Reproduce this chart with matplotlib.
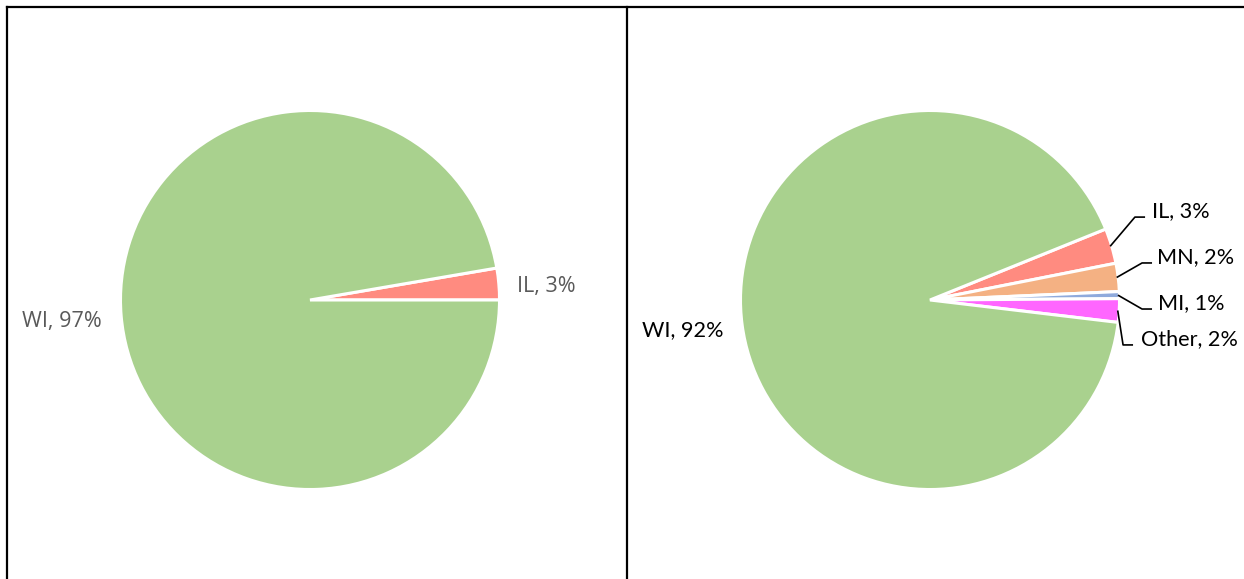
import matplotlib
matplotlib.use("Agg")
import matplotlib.pyplot as plt
from matplotlib.lines import Line2D
import numpy as np

# data
left_states = ["IL", "WI"]
left_values = [2.7, 97.3]
left_colors = ["#FF8B80", "#A9D18E"]

right_states = ["IL", "MN", "MI", "Other", "WI"]
right_values = [3.0, 2.4, 0.6, 2.0, 92.0]
right_colors = ["#FF8B80", "#F4B183", "#8FAADC", "#FF66FF", "#A9D18E"]

W, H, DPI = 1244, 579, 100
R_PX = 188.0  # pie radius in pixels


def pie_axes(fig, cx, cy, half_w=300, half_h=292):
    ax = fig.add_axes([(cx - half_w) / W, 1 - (cy + half_h) / H,
                       2 * half_w / W, 2 * half_h / H])
    return ax


def fix_limits(ax, half_w=300, half_h=292):
    ax.set_xlim(-half_w / R_PX, half_w / R_PX)
    ax.set_ylim(-half_h / R_PX, half_h / R_PX)
    ax.axis("off")


fig = plt.figure(figsize=(W / DPI, H / DPI), dpi=DPI)

wedge_style = dict(edgecolor="white", linewidth=2.2)

# ---- left pie ----
ax1 = pie_axes(fig, 310, 300)
ax1.pie(left_values, colors=left_colors, startangle=0, counterclock=True,
        radius=1.008, wedgeprops=wedge_style, frame=True)
fix_limits(ax1)

left_font = dict(family="Open Sans", fontsize=15.5, color="#595959")
left_label_pos = {"IL": (1.101, 0.043), "WI": (-1.532, -0.144)}
for name, v in zip(left_states, left_values):
    x, y = left_label_pos[name]
    ax1.text(x, y, f"{name}, {round(v)}%", ha="left", va="baseline", **left_font)

# ---- right pie ----
ax2 = pie_axes(fig, 930, 300)
wedges, _ = ax2.pie(right_values, colors=right_colors, startangle=22,
                    counterclock=False, radius=1.008, wedgeprops=wedge_style,
                    frame=True)
fix_limits(ax2)

right_font = dict(family="Lato", fontsize=15.6, color="black")

# leader layout: (elbow x, elbow y, end x, text x)
leader_layout = {
    "IL": (1.090, 0.441, 1.144, 1.181),
    "MN": (1.128, 0.197, 1.181, 1.207),
    "MI": (1.128, -0.048, 1.181, 1.213),
    "Other": (1.027, -0.239, 1.080, 1.122),
}

for w, name, v in zip(wedges, right_states, right_values):
    label = f"{name}, {round(v)}%"
    if name in leader_layout:
        ex, ey, endx, tx = leader_layout[name]
        mid = np.deg2rad((w.theta1 + w.theta2) / 2)
        sx, sy = np.cos(mid), np.sin(mid)
        ax2.plot([sx, ex, endx], [sy, ey, ey], color="black", linewidth=1.2,
                 solid_capstyle="butt")
        ax2.text(tx, ey, label, ha="left", va="baseline", **right_font)
    else:
        ax2.text(-1.532, -0.191, label, ha="left", va="baseline", **right_font)

# ---- panel borders ----
border = dict(color="black", linewidth=1.6)
fig.add_artist(Line2D([7 / W, 1], [1 - 7 / H, 1 - 7 / H], transform=fig.transFigure, **border))
fig.add_artist(Line2D([7 / W, 7 / W], [0, 1 - 7 / H], transform=fig.transFigure, **border))
fig.add_artist(Line2D([626.5 / W, 626.5 / W], [0, 1 - 7 / H], transform=fig.transFigure, **border))

fig.savefig("out.png", dpi=DPI)
